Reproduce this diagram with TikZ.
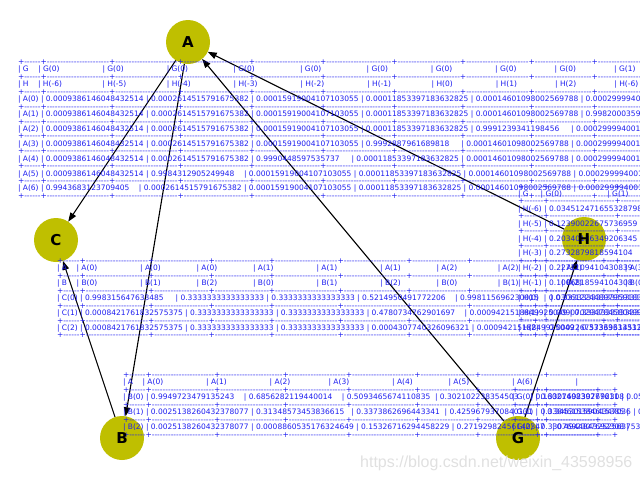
\documentclass[tikz,border=0pt]{standalone}
\usepackage{fontspec}
\usetikzlibrary{arrows.meta}
\newfontfamily\tabfont{DejaVu Sans}
\newfontfamily\wmfont{Liberation Sans}
\definecolor{nodey}{RGB}{191,191,0}
\definecolor{tblue}{RGB}{30,30,240}
\definecolor{wmgray}{RGB}{224,224,224}
\pgfdeclarelayer{back}\pgfdeclarelayer{mid}\pgfdeclarelayer{front}
\pgfsetlayers{back,mid,main,front}
\ExplSyntaxOn
\cs_new:Npn \tcell #1 #2
  { \c_space_tl #1 \prg_replicate:nn { #2 - \str_count:n {#1} } { \c_space_tl } \c_space_tl | }
\cs_new:Npn \tdsh #1
  { \prg_replicate:nn { #1 + 2 } { - \kern 0pt } + }
\ExplSyntaxOff
\newcommand\tabbox[1]{\vtop{\tabfont\fontsize{7.5}{7.44}\selectfont\frenchspacing\baselineskip=7.44pt\lineskiplimit=-100pt\lineskip=0pt #1}}
% table A | G,H
\newcommand\bA{\hbox{+\tdsh{4}\tdsh{21}\tdsh{21}\tdsh{22}\tdsh{22}\tdsh{22}\tdsh{21}\tdsh{21}\tdsh{19}\tdsh{19}\tdsh{21}\tdsh{21}}}
\newcommand\rA[7]{\hbox{|\tcell{#1}{4}\tcell{#2}{21}\tcell{#3}{21}\tcell{#4}{22}\tcell{#5}{22}\tcell{#6}{22}\tcell{#7}{21}}}
% table H | G
\newcommand\bH{\hbox{+\tdsh{5}\tdsh{22}\tdsh{22}\tdsh{22}}}
\newcommand\rH[2]{\hbox{|\tcell{#1}{5}\tcell{#2}{22}}}
% table C | A,B
\newcommand\bC{\hbox{+\tdsh{4}\tdsh{21}\tdsh{18}\tdsh{18}\tdsh{21}\tdsh{21}\tdsh{18}\tdsh{20}\tdsh{21}\tdsh{21}\tdsh{21}}}
\newcommand\rC[7]{\hbox{|\tcell{#1}{4}\tcell{#2}{21}\tcell{#3}{18}\tcell{#4}{18}\tcell{#5}{21}\tcell{#6}{21}\tcell{#7}{18}}}
% table B | A
\newcommand\bB{\hbox{+\tdsh{4}\tdsh{21}\tdsh{21}\tdsh{19}\tdsh{21}\tdsh{18}\tdsh{21}\tdsh{21}}}
\newcommand\rB[7]{\hbox{|\tcell{#1}{4}\tcell{#2}{21}\tcell{#3}{21}\tcell{#4}{19}\tcell{#5}{21}\tcell{#6}{18}\tcell{#7}{21}}}
% table G
\newcommand\bG{\hbox{+\tdsh{4}\tdsh{18}}}
\newcommand\rG[2]{\hbox{|\tcell{#1}{4}\tcell{#2}{18}}}
\begin{document}
\begin{tikzpicture}[x=1pt,y=-1pt,
  circ/.style={circle, fill=nodey, draw=none, minimum size=44pt, inner sep=0pt, outer sep=0pt},
  lab/.style={inner sep=0pt, font=\tabfont\bfseries\fontsize{15}{18}\selectfont, text=black},
  edge/.style={draw=black, line width=1.1pt, -{Triangle[length=9pt,width=6.5pt]}},
  tbl/.style={inner sep=0pt, outer sep=0pt, anchor=base west, text=tblue},
  wm/.style={inner sep=0pt, anchor=base west, text=wmgray, font=\wmfont\fontsize{16}{19}\selectfont}]
\useasboundingbox (0,0) rectangle (640,480);
\begin{pgfonlayer}{mid}
\node[circ] (A) at (188,42) {};
\node[circ] (C) at (56,240) {};
\node[circ] (H) at (584,239) {};
\node[circ] (B) at (122,438) {};
\node[circ] (G) at (518,438) {};
\end{pgfonlayer}
\begin{pgfonlayer}{back}
\draw[edge] (A) -- (C);
\draw[edge] (A) -- (B);
\draw[edge] (B) -- (C);
\draw[edge] (G) -- (A);
\draw[edge] (H) -- (A);
\draw[edge] (G) -- (H);
\end{pgfonlayer}
\clip (0,0) rectangle (640,480);
% CPD of A
\node[tbl] (tA) at (18,64.5) {\tabbox{%
\bA
\hbox{|\tcell{G}{4}\tcell{G(0)}{21}\tcell{G(0)}{21}\tcell{G(0)}{22}\tcell{G(0)}{22}\tcell{G(0)}{22}\tcell{G(0)}{21}\tcell{G(0)}{21}\tcell{G(0)}{19}\tcell{G(0)}{19}\tcell{G(1)}{21}\tcell{G(1)}{21}}
\bA
\hbox{|\tcell{H}{4}\tcell{H(-6)}{21}\tcell{H(-5)}{21}\tcell{H(-4)}{22}\tcell{H(-3)}{22}\tcell{H(-2)}{22}\tcell{H(-1)}{21}\tcell{H(0)}{21}\tcell{H(1)}{19}\tcell{H(2)}{19}\tcell{H(-6)}{21}\tcell{H(-5)}{21}}
\bA
\rA{A(0)}{0.0009386146048432514}{0.0002614515791675382}{0.00015919004107103055}{0.00011853397183632825}{0.00014601098002569788}{0.0002999940011997600}
\bA
\rA{A(1)}{0.0009386146048432514}{0.0002614515791675382}{0.00015919004107103055}{0.00011853397183632825}{0.00014601098002569788}{0.9982000359928014}
\bA
\rA{A(2)}{0.0009386146048432514}{0.0002614515791675382}{0.00015919004107103055}{0.00011853397183632825}{0.9991239341198456}{0.0002999940011997600}
\bA
\rA{A(3)}{0.0009386146048432514}{0.0002614515791675382}{0.00015919004107103055}{0.9992887961689818}{0.00014601098002569788}{0.0002999940011997600}
\bA
\rA{A(4)}{0.0009386146048432514}{0.0002614515791675382}{0.9990448597535737}{0.00011853397183632825}{0.00014601098002569788}{0.0002999940011997600}
\bA
\rA{A(5)}{0.0009386146048432514}{0.9984312905249948}{0.00015919004107103055}{0.00011853397183632825}{0.00014601098002569788}{0.0002999940011997600}
\bA
\rA{A(6)}{0.9943683123709405}{0.0002614515791675382}{0.00015919004107103055}{0.00011853397183632825}{0.00014601098002569788}{0.0002999940011997600}
\bA}};
% CPD of H
\node[tbl] (tH) at (518,189) {\tabbox{%
\bH
\hbox{|\tcell{G}{5}\tcell{G(0)}{22}\tcell{G(1)}{22}\tcell{G(2)}{22}}
\bH
\rH{H(-6)}{0.034512471655328798}
\bH
\rH{H(-5)}{0.12390022675736959}
\bH
\rH{H(-4)}{0.20340136349206345}
\bH
\rH{H(-3)}{0.2732879818594104}
\bH
\rH{H(-2)}{0.2272109410430839}
\bH
\rH{H(-1)}{0.1006818594104308}
\bH
\rH{H(0)}{0.030612244897959183}
\bH
\rH{H(1)}{0.009070294784580499}
\bH
\rH{H(2)}{0.00022675736961451248}
\bH}};
% CPD of C
\node[tbl] (tC) at (57,263.5) {\tabbox{%
\bC
\hbox{|\tcell{A}{4}\tcell{A(0)}{21}\tcell{A(0)}{18}\tcell{A(0)}{18}\tcell{A(1)}{21}\tcell{A(1)}{21}\tcell{A(1)}{18}\tcell{A(2)}{20}\tcell{A(2)}{21}\tcell{A(2)}{21}\tcell{A(3)}{21}}
\bC
\hbox{|\tcell{B}{4}\tcell{B(0)}{21}\tcell{B(1)}{18}\tcell{B(2)}{18}\tcell{B(0)}{21}\tcell{B(1)}{21}\tcell{B(2)}{18}\tcell{B(0)}{20}\tcell{B(1)}{21}\tcell{B(2)}{21}\tcell{B(0)}{21}}
\bC
\rC{C(0)}{0.998315647633485}{0.3333333333333333}{0.3333333333333333}{0.5214950491772206}{0.998115696230015}{0.3333333333333333}
\bC
\rC{C(1)}{0.0008421761832575375}{0.3333333333333333}{0.3333333333333333}{0.4780734762901697}{0.0009421518849925049}{0.3333333333333333}
\bC
\rC{C(2)}{0.0008421761832575375}{0.3333333333333333}{0.3333333333333333}{0.0004307740326096321}{0.0009421518849925049}{0.3333333333333333}
\bC}};
% CPD of B
\node[tbl] (tB) at (123,377.5) {\tabbox{%
\bB
\hbox{|\tcell{A}{4}\tcell{A(0)}{21}\tcell{A(1)}{21}\tcell{A(2)}{19}\tcell{A(3)}{21}\tcell{A(4)}{18}\tcell{A(5)}{21}\tcell{A(6)}{21}}
\bB
\rB{B(0)}{0.9949723479135243}{0.6856282119440014}{0.5093465674110835}{0.302102238354503}{0.1602140839277611}{0.0573065902578797}
\bB
\rB{B(1)}{0.0025138260432378077}{0.31348573453836615}{0.3373862696443341}{0.4259679370840131}{0.3453015904347036}{0.4713467048710602}
\bB
\rB{B(2)}{0.0025138260432378077}{0.0008860535176324649}{0.15326716294458229}{0.27192982456140347}{0.4944843252563753}{0.4713467048710602}
\bB}};
% CPD of G
\node[tbl] (tG) at (512,392.5) {\tabbox{%
\bG
\rG{G(0)}{0.3307692307692308}
\bG
\rG{G(1)}{0.3384615384615385}
\bG
\rG{G(2)}{0.3307692307692308}
\bG}};
\begin{pgfonlayer}{front}
\node[lab] (lA) at (A) {A};
\node[lab] (lC) at (C) {C};
\node[lab] (lH) at (H) {H};
\node[lab] (lB) at (B) {B};
\node[lab] (lG) at (G) {G};
\node[wm] (wm) at (360,467) {https://blog.csdn.net/weixin\_43598956};
\end{pgfonlayer}
\end{tikzpicture}
\end{document}
